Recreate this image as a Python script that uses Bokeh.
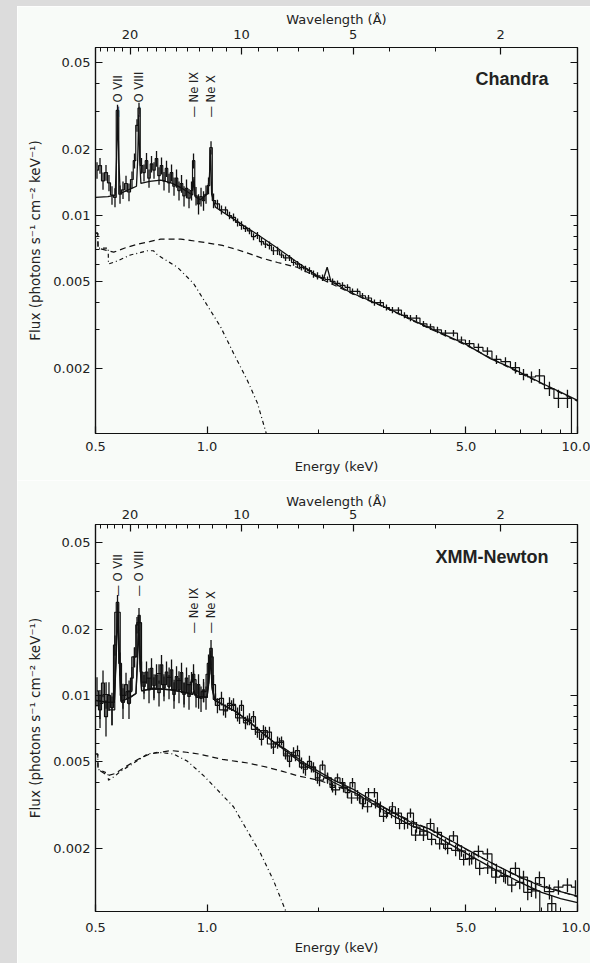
import math
from bokeh.plotting import figure
from bokeh.models import LogAxis, FixedTicker, CustomJSTickFormatter, Label, Div
from bokeh.layouts import column, row
from bokeh.embed import file_html
from bokeh.resources import INLINE

# ---------------- data ----------------
HC = 12.398  # keV * Angstrom

energy_grid = [0.5047, 0.5142, 0.5239, 0.5337, 0.5437, 0.5540, 0.5644, 0.5733, 0.5823, 0.5932,
               0.6044, 0.6157, 0.6273, 0.6372, 0.6471, 0.6552, 0.6655, 0.6759, 0.6865, 0.6973,
               0.7082, 0.7193, 0.7306, 0.7420, 0.7536, 0.7654, 0.7774, 0.7896, 0.8020, 0.8145,
               0.8273, 0.8402, 0.8534, 0.8668, 0.8803, 0.8941, 0.9081, 0.9195, 0.9339, 0.9485,
               0.9634, 0.9785, 0.9938, 1.0094, 1.0252, 1.0413, 1.067, 1.094, 1.122, 1.150,
               1.179, 1.209, 1.239, 1.270, 1.302, 1.335, 1.368, 1.403, 1.438, 1.474,
               1.511, 1.550, 1.589, 1.629, 1.670, 1.712, 1.755, 1.799, 1.844, 1.890,
               1.938, 1.987, 2.050, 2.115, 2.182, 2.250, 2.321, 2.394, 2.470, 2.548,
               2.628, 2.728, 2.831, 2.938, 3.050, 3.166, 3.286, 3.411, 3.541, 3.676,
               3.839, 4.010, 4.188, 4.401, 4.626, 4.862, 5.109, 5.403, 5.714, 6.043,
               6.391, 6.800, 7.149, 7.512, 7.894, 8.400, 8.883, 9.395, 9.874]

chandra_flux = [0.0161, 0.0169, 0.0144, 0.0157, 0.0141, 0.0124, 0.0121, 0.0302, 0.0125, 0.0131,
                0.0140, 0.0128, 0.0146, 0.0178, 0.0258, 0.0309, 0.0169, 0.0157, 0.0178, 0.0148,
                0.0172, 0.0161, 0.0182, 0.0152, 0.0169, 0.0144, 0.0164, 0.0141, 0.0157, 0.0136,
                0.0148, 0.0130, 0.0140, 0.0123, 0.0133, 0.0120, 0.0130, 0.0178, 0.0123, 0.0113,
                0.0122, 0.0117, 0.0125, 0.0137, 0.0204, 0.0117, 0.0113, 0.0106, 0.0106, 0.0100,
                0.0098, 0.0093, 0.0090, 0.0087, 0.0085, 0.0080, 0.0081, 0.0076, 0.0074, 0.0073,
                0.0069, 0.0069, 0.0066, 0.0064, 0.0064, 0.0061, 0.0060, 0.0058, 0.0057, 0.0056,
                0.0054, 0.0053, 0.0052, 0.0051, 0.0050, 0.0049, 0.0048, 0.0047, 0.0045, 0.0045,
                0.0043, 0.0042, 0.0040, 0.0040, 0.0038, 0.0037, 0.0037, 0.0035, 0.0034, 0.0034,
                0.0032, 0.0031, 0.0030, 0.0029, 0.0029, 0.0027, 0.0026, 0.0025, 0.0024, 0.0022,
                0.00215, 0.00202, 0.00188, 0.00183, 0.00185, 0.00162, 0.00146, 0.00146, 0.0005]

chandra_err = [0.0014, 0.0014, 0.0013, 0.0013, 0.0012, 0.0012, 0.0012, 0.0018, 0.0012, 0.0012,
               0.0012, 0.0012, 0.0013, 0.0014, 0.0017, 0.0018, 0.0014, 0.0014, 0.0015, 0.0014,
               0.0015, 0.0014, 0.0015, 0.0014, 0.0015, 0.0014, 0.0014, 0.0014, 0.0014, 0.0013,
               0.0014, 0.0013, 0.0013, 0.0013, 0.0013, 0.0012, 0.0013, 0.0014, 0.0012, 0.0012,
               0.0012, 0.0012, 0.0012, 0.0012, 0.0014, 0.0009, 0.0005, 0.0005, 0.0004, 0.0004,
               0.0004, 0.0004, 0.0004, 0.0003, 0.0003, 0.0003, 0.0003, 0.0003, 0.0003, 0.0003,
               0.0003, 0.0003, 0.0002, 0.0002, 0.0002, 0.0002, 0.0002, 0.0002, 0.0002, 0.0002,
               0.0002, 0.0002, 0.00018, 0.00016, 0.00016, 0.00015, 0.00015, 0.00015, 0.00014, 0.00014,
               0.00013, 0.00013, 0.00013, 0.00012, 0.00012, 0.00012, 0.00011, 0.00011, 0.00011, 0.00011,
               0.00010, 0.00010, 0.00010, 0.00010, 0.00010, 0.00010, 0.00010, 0.00010, 0.00010, 0.00010,
               0.00010, 0.00012, 0.00011, 0.00011, 0.00014, 0.00012, 0.00014, 0.00014, 0.0]

chandra_model_e = [0.50, 0.54, 0.565, 0.570, 0.574, 0.578, 0.583, 0.62, 0.645, 0.650,
                   0.654, 0.658, 0.663, 0.70, 0.75, 0.80, 0.85, 0.90, 0.915, 0.922,
                   0.929, 0.96, 1.00, 1.015, 1.022, 1.029, 1.054, 1.194, 1.352, 1.53,
                   1.733, 2.0, 2.06, 2.11, 2.16, 2.44, 2.99, 4.01, 5.0, 5.82,
                   6.6, 8.09, 9.0, 10.0]
chandra_model_f = [0.0121, 0.0122, 0.0124, 0.0180, 0.0300, 0.0180, 0.0126, 0.0132, 0.0136, 0.0180,
                   0.0290, 0.0180, 0.0140, 0.0143, 0.0145, 0.0141, 0.0134, 0.0126, 0.0124, 0.0150,
                   0.0122, 0.0118, 0.0125, 0.0150, 0.0200, 0.0125, 0.0109, 0.0095, 0.0083, 0.0072,
                   0.0062, 0.00525, 0.0051, 0.0058, 0.0050, 0.00445, 0.00385, 0.00305, 0.00258, 0.00222,
                   0.00202, 0.00170, 0.00156, 0.00143]

chandra_hot_e = [0.50, 0.507, 0.508, 0.54, 0.56, 0.60, 0.65, 0.70, 0.75, 0.80, 0.85, 0.90, 1.0, 1.1,
                 1.2, 1.3, 1.4, 1.55, 1.75, 2.0, 2.44, 2.99, 4.01, 5.0, 6.6, 8.09, 10.0]
chandra_hot_f = [0.0083, 0.0083, 0.0071, 0.0069, 0.0068, 0.0071, 0.0074, 0.0076, 0.0078, 0.0078, 0.0078,
                 0.0077, 0.0075, 0.0073, 0.0070, 0.0067, 0.0064, 0.0061, 0.0058, 0.0052, 0.00443,
                 0.00383, 0.00303, 0.00256, 0.00200, 0.00169, 0.00142]

chandra_soft_e = [0.50, 0.507, 0.508, 0.541, 0.542, 0.573, 0.621, 0.691, 0.717, 0.735, 0.832, 0.919,
                  1.0, 1.088, 1.179, 1.286, 1.368, 1.438, 1.46]
chandra_soft_f = [0.0083, 0.0083, 0.0071, 0.0071, 0.0060, 0.0062, 0.0066, 0.0069, 0.0069, 0.0066, 0.0058,
                  0.0049, 0.0039, 0.0031, 0.00235, 0.00176, 0.00139, 0.00104, 0.00095]

pn_flux = [0.0105, 0.0086, 0.0114, 0.0080, 0.0100, 0.0088, 0.0170, 0.0266, 0.0140, 0.0093,
           0.0112, 0.0092, 0.0120, 0.0150, 0.0210, 0.0232, 0.0128, 0.0110, 0.0128, 0.0106,
           0.0133, 0.0111, 0.0124, 0.0103, 0.0138, 0.0108, 0.0128, 0.0110, 0.0131, 0.0101,
           0.0122, 0.0106, 0.0127, 0.0101, 0.0120, 0.0099, 0.0115, 0.0125, 0.0101, 0.0112,
           0.0097, 0.0106, 0.0098, 0.0140, 0.0164, 0.0112, 0.0090, 0.0097, 0.0085, 0.0092,
           0.0091, 0.0082, 0.0090, 0.0075, 0.0078, 0.0080, 0.0068, 0.0063, 0.0068, 0.0068,
           0.0058, 0.0061, 0.0062, 0.0054, 0.0050, 0.0055, 0.0056, 0.0049, 0.0046, 0.0050,
           0.0047, 0.0042, 0.0048, 0.0042, 0.0038, 0.0042, 0.0040, 0.0036, 0.0040, 0.0035,
           0.0032, 0.0036, 0.0036, 0.0031, 0.0029, 0.0031, 0.0029, 0.0026, 0.0029, 0.0025,
           0.0023, 0.0026, 0.00237, 0.00209, 0.00228, 0.00195, 0.00179, 0.00194, 0.00189, 0.00159,
           0.00149, 0.00162, 0.00148, 0.00130, 0.00147, 0.00127, 0.00133, 0.00136, 0.00133]

pn_err = [0.0016, 0.0015, 0.0016, 0.0015, 0.0015, 0.0015, 0.0018, 0.0022, 0.0017, 0.0015,
          0.0015, 0.0014, 0.0015, 0.0016, 0.0018, 0.0019, 0.0015, 0.0014, 0.0015, 0.0014,
          0.0015, 0.0014, 0.0015, 0.0014, 0.0015, 0.0014, 0.0015, 0.0014, 0.0015, 0.0014,
          0.0014, 0.0014, 0.0014, 0.0013, 0.0014, 0.0013, 0.0013, 0.0014, 0.0013, 0.0013,
          0.0013, 0.0013, 0.0012, 0.0014, 0.0015, 0.0012, 0.0007, 0.0007, 0.0006, 0.0006,
          0.0006, 0.0006, 0.0005, 0.0005, 0.0005, 0.0005, 0.0004, 0.0004, 0.0004, 0.0004,
          0.0004, 0.0004, 0.0003, 0.0003, 0.0003, 0.0003, 0.0003, 0.0003, 0.0003, 0.0003,
          0.00025, 0.00025, 0.00025, 0.00025, 0.0002, 0.0002, 0.0002, 0.0002, 0.0002, 0.0002,
          0.00018, 0.00018, 0.00018, 0.00018, 0.00016, 0.00016, 0.00016, 0.00016, 0.00014, 0.00014,
          0.00014, 0.00014, 0.00013, 0.00013, 0.00012, 0.00012, 0.00012, 0.00012, 0.00011, 0.00011,
          0.00011, 0.00011, 0.00010, 0.00010, 0.00010, 0.00010, 0.00010, 0.00010, 0.00010]

mos_energy = [0.514, 0.534, 0.554, 0.5733, 0.593, 0.616, 0.637, 0.6552, 0.676, 0.697,
              0.719, 0.742, 0.765, 0.790, 0.815, 0.840, 0.867, 0.894, 0.9195, 0.949,
              0.979, 1.0094, 1.0252, 1.054, 1.108, 1.165, 1.224, 1.286, 1.351, 1.420,
              1.492, 1.569, 1.649, 1.733, 1.821, 1.914, 2.012, 2.115, 2.223, 2.336,
              2.455, 2.580, 2.712, 2.850, 2.995, 3.148, 3.309, 3.478, 3.655, 3.842,
              4.038, 4.244, 4.461, 4.689, 4.928, 5.180, 5.444, 5.722, 6.014, 6.321,
              6.644, 6.983, 7.340, 7.715, 8.109, 8.523, 8.958, 9.415, 9.896]
mos_flux = [0.0092, 0.0101, 0.0086, 0.0240, 0.0100, 0.0104, 0.0150, 0.0215, 0.0115, 0.0120,
            0.0108, 0.0126, 0.0112, 0.0121, 0.0106, 0.0117, 0.0103, 0.0112, 0.0118, 0.0098,
            0.0104, 0.0125, 0.0150, 0.0096, 0.0086, 0.0090, 0.0079, 0.0077, 0.0070, 0.0069,
            0.0060, 0.0061, 0.0053, 0.0053, 0.0047, 0.0047, 0.0041, 0.0042, 0.0037, 0.0038,
            0.0034, 0.0034, 0.0031, 0.0032, 0.0028, 0.0029, 0.0026, 0.0026, 0.0023, 0.0024,
            0.0022, 0.0021, 0.0020, 0.00196, 0.00178, 0.00180, 0.00162, 0.00163, 0.00148, 0.00150,
            0.00136, 0.00140, 0.00126, 0.00128, 0.00090, 0.00112, 0.00085, 0.00080, 0.00080]
mos_err = [0.0014, 0.0014, 0.0013, 0.0020, 0.0013, 0.0013, 0.0015, 0.0018, 0.0013, 0.0013,
           0.0013, 0.0013, 0.0013, 0.0013, 0.0012, 0.0012, 0.0012, 0.0012, 0.0012, 0.0011,
           0.0011, 0.0012, 0.0013, 0.0006, 0.0005, 0.0005, 0.0005, 0.0004, 0.0004, 0.0004,
           0.0003, 0.0003, 0.0003, 0.0003, 0.0003, 0.00025, 0.00025, 0.0002, 0.0002, 0.0002,
           0.0002, 0.00018, 0.00018, 0.00016, 0.00016, 0.00015, 0.00015, 0.00014, 0.00014, 0.00013,
           0.00013, 0.00012, 0.00012, 0.00012, 0.00011, 0.00011, 0.00011, 0.00010, 0.00010, 0.00010,
           0.00010, 0.00010, 0.00010, 0.00010, 0.0, 0.00010, 0.0, 0.0, 0.0]

xmm_model_e = [0.50, 0.54, 0.562, 0.568, 0.574, 0.580, 0.586, 0.62, 0.643, 0.649,
               0.654, 0.659, 0.666, 0.70, 0.75, 0.80, 0.85, 0.90, 0.915, 0.922,
               0.929, 0.95, 1.00, 1.012, 1.022, 1.032, 1.05, 1.10, 1.20, 1.30,
               1.40, 1.52, 1.65, 1.80, 2.0, 2.2, 2.5, 2.8, 3.2, 3.6,
               4.0, 4.6, 5.2, 6.0, 7.0, 8.0, 9.0, 10.0]
xmm_model_pn = [0.0095, 0.0093, 0.0093, 0.0150, 0.0262, 0.0150, 0.0094, 0.0098, 0.0102, 0.0150,
                0.0230, 0.0150, 0.0105, 0.0107, 0.0107, 0.0106, 0.0104, 0.0102, 0.0101, 0.0106,
                0.0100, 0.0099, 0.0098, 0.0120, 0.0160, 0.0110, 0.0095, 0.0091, 0.0084, 0.0076,
                0.0068, 0.0061, 0.0056, 0.0050, 0.0045, 0.0041, 0.0037, 0.0033, 0.0029, 0.0026,
                0.00245, 0.00215, 0.00192, 0.00168, 0.00148, 0.00134, 0.00127, 0.00121]
xmm_model_mos = [0.0095, 0.0093, 0.0093, 0.0140, 0.0240, 0.0140, 0.0094, 0.0098, 0.0102, 0.0140,
                 0.0215, 0.0140, 0.0105, 0.0107, 0.0107, 0.0106, 0.0104, 0.0102, 0.0101, 0.0105,
                 0.0100, 0.0099, 0.0098, 0.0115, 0.0150, 0.0107, 0.0095, 0.0091, 0.0084, 0.0076,
                 0.0068, 0.0061, 0.0055, 0.0049, 0.0044, 0.0040, 0.0036, 0.0032, 0.0028, 0.00252,
                 0.00236, 0.00206, 0.00183, 0.00160, 0.00140, 0.00126, 0.00118, 0.00113]

xmm_hot_e = [0.50, 0.507, 0.508, 0.54, 0.566, 0.60, 0.65, 0.70, 0.75, 0.80, 0.88, 0.95, 1.0,
             1.1, 1.2, 1.3, 1.45, 1.6, 1.75, 2.0, 2.5, 3.2, 4.0, 5.2, 7.0, 10.0]
xmm_hot_f = [0.0054, 0.0054, 0.0046, 0.0043, 0.0044, 0.0047, 0.0051, 0.0054, 0.0055, 0.0056, 0.0055,
             0.0054, 0.0053, 0.0051, 0.0050, 0.0049, 0.0047, 0.0045, 0.0043, 0.0041, 0.0036, 0.0029,
             0.00244, 0.00191, 0.00147, 0.00120]

xmm_soft_e = [0.50, 0.507, 0.508, 0.540, 0.542, 0.566, 0.584, 0.633, 0.69, 0.735, 0.812, 0.886,
              0.979, 1.067, 1.179, 1.286, 1.394, 1.511, 1.629, 1.70]
xmm_soft_f = [0.0054, 0.0054, 0.0046, 0.0044, 0.0041, 0.0043, 0.0045, 0.0049, 0.0054, 0.0055, 0.0054,
              0.0050, 0.0043, 0.0037, 0.0031, 0.0024, 0.0019, 0.00143, 0.00104, 0.00085]

line_names = ["O VII", "O VIII", "Ne IX", "Ne X"]
line_energies = [0.574, 0.654, 0.922, 1.022]

x_major = [0.5, 1.0, 5.0, 10.0]
x_minor = [2.0, 3.0, 4.0, 6.0, 7.0, 8.0, 9.0]
y_major = [0.002, 0.005, 0.01, 0.02, 0.05]
y_minor = [0.003, 0.004, 0.006, 0.007, 0.008, 0.009, 0.03, 0.04]
wavelength_major = [20, 10, 5, 2]
wavelength_minor = [24, 23, 22, 21, 19, 18, 17, 16, 15, 14, 13, 12, 11, 9, 8, 7, 6, 4, 3]

# ---------------- styling ----------------
FONT = "DejaVu Sans"
TXT = "#222222"
INK = "#111111"
BG = "#f8fbf8"
GRAY = "#dcdcdc"


def style_axis(ax):
    ax.major_tick_in = 7
    ax.major_tick_out = 0
    ax.minor_tick_in = 4
    ax.minor_tick_out = 0
    ax.axis_line_color = INK
    ax.axis_line_width = 1.2
    ax.major_tick_line_color = INK
    ax.minor_tick_line_color = INK
    ax.major_tick_line_width = 1.2
    ax.minor_tick_line_width = 1.0
    ax.major_label_text_font = FONT
    ax.major_label_text_font_size = "13px"
    ax.major_label_text_color = TXT
    ax.axis_label_text_font = FONT
    ax.axis_label_text_font_size = "13px"
    ax.axis_label_text_font_style = "normal"
    ax.axis_label_text_color = TXT


def make_panel(height, y_range, top_border, bottom_border, top_std, top_lbl_std, bot_std,
               name, name_y, label_ys, data_sets, models, hot, soft):
    p = figure(width=573, height=height, x_axis_type="log", y_axis_type="log",
               x_range=(0.5, 10.0), y_range=y_range,
               output_backend="svg", toolbar_location=None,
               min_border_left=78, min_border_right=13,
               min_border_top=top_border, min_border_bottom=bottom_border,
               background_fill_color=BG, border_fill_color=BG)
    p.grid.visible = False
    p.outline_line_color = INK
    p.outline_line_width = 1.2

    xa = p.xaxis[0]
    xa.ticker = FixedTicker(ticks=x_major, minor_ticks=x_minor)
    xa.formatter = CustomJSTickFormatter(code="return tick.toFixed(1);")
    xa.axis_label = "Energy (keV)"
    style_axis(xa)
    xa.major_label_standoff = bot_std
    xa.axis_label_standoff = 5

    ya = p.yaxis[0]
    ya.ticker = FixedTicker(ticks=y_major, minor_ticks=y_minor)
    ya.formatter = CustomJSTickFormatter(code="return String(tick);")
    ya.axis_label = "Flux (photons s\u207b\u00b9 cm\u207b\u00b2 keV\u207b\u00b9)"
    style_axis(ya)
    ya.axis_label_text_font_size = "13.5px"
    ya.major_label_standoff = 5
    ya.axis_label_standoff = 7

    top = LogAxis(ticker=FixedTicker(ticks=[HC / w for w in wavelength_major],
                                     minor_ticks=[HC / w for w in wavelength_minor]),
                  formatter=CustomJSTickFormatter(code="return String(Math.round(12.398 / tick));"),
                  axis_label="Wavelength (\u00c5)")
    style_axis(top)
    top.major_label_standoff = top_std
    top.axis_label_standoff = top_lbl_std
    p.add_layout(top, "above")

    right = LogAxis(ticker=FixedTicker(ticks=y_major, minor_ticks=y_minor),
                    formatter=CustomJSTickFormatter(code="return '';"))
    style_axis(right)
    right.major_label_standoff = 0
    p.add_layout(right, "right")

    # data (histogram steps with error bars)
    for e, f, err in data_sets:
        p.step(x=e, y=f, mode="center", line_color=INK, line_width=1.2)
        lo = [max(v - s, 1e-5) for v, s in zip(f, err)]
        hi = [v + s for v, s in zip(f, err)]
        p.segment(x0=e, y0=lo, x1=e, y1=hi, line_color=INK, line_width=1.3)

    # model curves
    for e, f in models:
        p.line(x=e, y=f, line_color=INK, line_width=1.3)
    p.line(x=hot[0], y=hot[1], line_color=INK, line_width=1.2, line_dash="6 4")
    p.line(x=soft[0], y=soft[1], line_color=INK, line_width=1.2, line_dash="4 3 1 3")

    # emission line identifications
    for nm, en, ly in zip(line_names, line_energies, label_ys):
        p.add_layout(Label(x=en, y=ly, text="\u2014  " + nm, angle=math.pi / 2,
                           text_align="left", text_baseline="middle",
                           text_font=FONT, text_font_size="11.5px", text_color=TXT))

    p.add_layout(Label(x=8.35, y=name_y, text=name, text_align="right",
                       text_baseline="middle", text_font="Liberation Sans",
                       text_font_style="bold", text_font_size="18px", text_color=TXT))
    return p


p1 = make_panel(474, (0.00101, 0.0585), 41, 47, 9, 0, 8, "Chandra", 0.0422,
                [0.028, 0.028, 0.028, 0.028],
                [(energy_grid, chandra_flux, chandra_err)],
                [(chandra_model_e, chandra_model_f)],
                (chandra_hot_e, chandra_hot_f), (chandra_soft_e, chandra_soft_f))

p2 = make_panel(483, (0.00103, 0.0604), 44, 52, 6, -2, 11, "XMM-Newton", 0.0431,
                [0.0283, 0.0283, 0.0192, 0.0192],
                [(energy_grid, pn_flux, pn_err), (mos_energy, mos_flux, mos_err)],
                [(xmm_model_e, xmm_model_pn), (xmm_model_e, xmm_model_mos)],
                (xmm_hot_e, xmm_hot_f), (xmm_soft_e, xmm_soft_f))

top_band = Div(text="", width=590, height=6, margin=0, styles={"background-color": GRAY})
left_band = Div(text="", width=17, height=957, margin=0, styles={"background-color": GRAY})
layout = column(top_band, row(left_band, column(p1, p2, spacing=0), spacing=0), spacing=0)

open("out.html", "w").write(file_html(layout, INLINE))
